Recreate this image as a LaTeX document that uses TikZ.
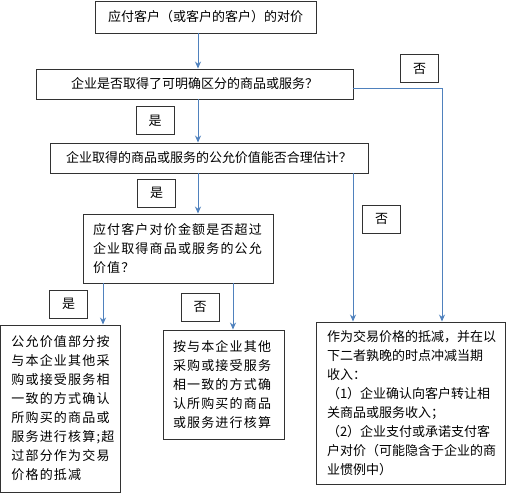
\documentclass[tikz,border=0pt]{standalone}
\usepackage{fontspec}
\setmainfont{Noto Sans CJK SC}
\newfontfamily\cjkwide[LetterSpace=9]{Noto Sans CJK SC}
\usepackage{xcolor}
\usetikzlibrary{arrows.meta}
\definecolor{flowblue}{RGB}{79,129,189}
\definecolor{boxgray}{RGB}{50,50,50}

\begin{document}
\begin{tikzpicture}[x=1pt, y=-1pt,
    box/.style={draw=boxgray, line width=0.9pt, inner sep=0pt, font=\fontsize{13}{19}\selectfont},
    tag/.style={box, minimum width=38pt, minimum height=28pt},
    flow/.style={flowblue, line width=0.9pt, -{Stealth[length=7pt, width=6pt]}}]
    \useasboundingbox (0,0) rectangle (506,494);

    % Questions
    \node[box, minimum width=221pt, minimum height=32pt] (pay) at (205.5,17) {应付客户（或客户的客户）的对价};
    \node[box, minimum width=317pt, minimum height=30pt] (distinct) at (194.5,84) {企业是否取得了可明确区分的商品或服务？};
    \node[box, minimum width=318pt, minimum height=30pt] (fairval) at (209,158) {企业取得的商品或服务的公允价值能否合理估计？};
    \node[box, minimum width=190pt, minimum height=69pt, text width=170pt, align=left] (exceed) at (178,248.5)
        {\cjkwide 应付客户对价金额是否超过\\企业取得商品或服务的公允\\价值？};

    % Results
    \node[box, minimum width=120pt, minimum height=167pt, text width=98pt, align=left] (split) at (60.5,408.5)
        {\cjkwide 公允价值部分按\\与本企业其他采\\购或接受服务相\\一致的方式确认\\所购买的商品或\\服务进行核算;超\\过部分作为交易\\价格的抵减};
    \node[box, minimum width=121pt, minimum height=109pt, text width=101pt, align=left] (purchase) at (223.5,384.5)
        {\cjkwide 按与本企业其他\\采购或接受服务\\相一致的方式确\\认所购买的商品\\或服务进行核算};
    \node[box, minimum width=189pt, minimum height=162pt, text width=167pt, align=left] (reduce) at (410.5,403)
        {作为交易价格的抵减，并在以\\下二者孰晚的时点冲减当期\\收入：\\（1）企业确认向客户转让相\\关商品或服务收入；\\（2）企业支付或承诺支付客\\户对价（可能隐含于企业的商\\业惯例中）};

    % Yes / no tags
    \node[tag] (yesA) at (155,120.5) {是};
    \node[tag] (noA) at (419.5,68.5) {否};
    \node[tag] (yesB) at (156.5,193) {是};
    \node[tag] (noB) at (381.5,219) {否};
    \node[tag] (yesC) at (68.5,304) {是};
    \node[tag] (noC) at (200,307) {否};

    % Connector columns
    \coordinate (midcol) at (198,0);
    \coordinate (leftcol) at (103,0);
    \coordinate (centcol) at (233,0);
    \coordinate (noFcol) at (353,0);
    \coordinate (noDcol) at (442,0);

    % Arrows
    \draw[flow] (pay.south -| midcol) -- (distinct.north -| midcol);
    \draw[flow] (distinct.south -| midcol) -- (fairval.north -| midcol);
    \draw[flow] ([yshift=-4pt]distinct.east) -| (reduce.north -| noDcol);
    \draw[flow] (fairval.south -| midcol) -- (exceed.north -| midcol);
    \draw[flow] (fairval.south -| noFcol) -- (reduce.north -| noFcol);
    \draw[flow] (exceed.south -| leftcol) -- (split.north -| leftcol);
    \draw[flow] (exceed.south -| centcol) -- (purchase.north -| centcol);
\end{tikzpicture}
\end{document}
